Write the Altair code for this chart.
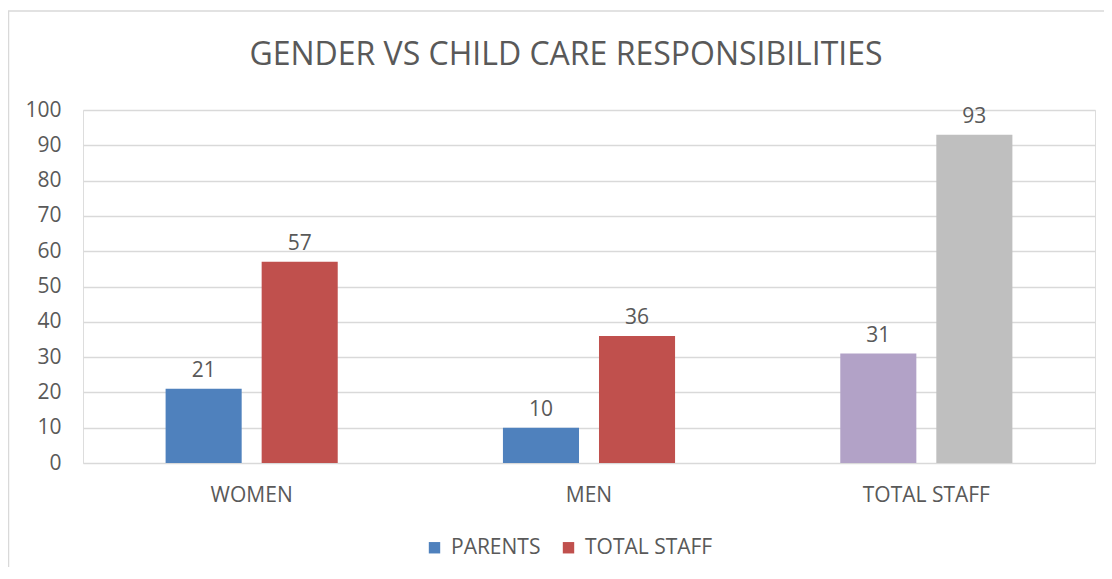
import altair as alt
import pandas as pd

categories = ["WOMEN", "MEN", "TOTAL STAFF"]
series = ["PARENTS", "TOTAL STAFF"]
parents = [21, 10, 31]
total_staff = [57, 36, 93]
color_keys = [
    ["PARENTS", "TOTAL STAFF"],
    ["PARENTS", "TOTAL STAFF"],
    ["ALL PARENTS", "ALL STAFF"],
]
color_domain = ["PARENTS", "TOTAL STAFF", "ALL PARENTS", "ALL STAFF"]
color_range = ["#4F81BD", "#C0504D", "#B2A2C7", "#BFBFBF"]
y_ticks = list(range(0, 101, 10))
title_text = "GENDER VS CHILD CARE RESPONSIBILITIES"

rows = []
for i, c in enumerate(categories):
    for j, s in enumerate(series):
        v = parents[i] if j == 0 else total_staff[i]
        rows.append({"category": c, "series": s, "value": v, "ckey": color_keys[i][j]})
df = pd.DataFrame(rows)

FONT = "Open Sans"
TXT = "#595959"
GRID = "#D9D9D9"
FS = 21

x_enc = alt.X("category:N", sort=categories, title=None,
              scale=alt.Scale(paddingInner=0, paddingOuter=0),
              axis=alt.Axis(labelAngle=0, labelFont=FONT, labelFontSize=FS,
                            labelColor=TXT, labelPadding=21, ticks=False,
                            domain=False, grid=False))
xo_enc = alt.XOffset("series:N", sort=series,
                     scale=alt.Scale(paddingInner=0.208, paddingOuter=0.86))
y_enc = alt.Y("value:Q", title=None,
              scale=alt.Scale(domain=[0, 100], nice=False),
              axis=alt.Axis(values=y_ticks, tickCount=11, labelFont=FONT,
                            labelFontSize=FS, labelColor=TXT, labelPadding=22,
                            ticks=False, labelOverlap=False,
                            domain=False, grid=True, gridColor=GRID,
                            gridWidth=1.5))

base = alt.Chart(df)

bars = base.mark_bar().encode(
    x=x_enc,
    xOffset=xo_enc,
    y=y_enc,
    color=alt.Color("ckey:N",
                    scale=alt.Scale(domain=color_domain, range=color_range),
                    legend=alt.Legend(values=["PARENTS", "TOTAL STAFF"],
                                      title=None, orient="none",
                                      direction="horizontal",
                                      legendX=341, legendY=427,
                                      symbolType="square", symbolSize=130,
                                      symbolStrokeWidth=0,
                                      labelFont=FONT, labelFontSize=FS,
                                      labelColor=TXT, labelOffset=6,
                                      columnPadding=17)),
)

labels = base.mark_text(baseline="bottom", dy=-8, font=FONT, fontSize=FS,
                        color=TXT).encode(
    x=x_enc,
    xOffset=xo_enc,
    y=y_enc,
    text="value:Q",
)

border_df = pd.DataFrame([{"k": 1}])
border = alt.Chart(border_df).mark_rect(fill=None, stroke=GRID, strokeWidth=1.5).encode(
    x=alt.value(-74.5), x2=alt.value(1040), y=alt.value(-99), y2=alt.value(480)
)

title_df = pd.DataFrame([{"t": title_text}])
title = alt.Chart(title_df).mark_text(font=FONT, fontSize=32, color=TXT,
                                      baseline="alphabetic", align="center").encode(
    x=alt.value(483), y=alt.value(-45), text="t:N"
)

chart = alt.layer(border, bars, labels, title).properties(
    width=1012, height=353,
    autosize=alt.AutoSizeParams(type="none"),
    padding={"left": 75, "top": 102, "right": 9, "bottom": 104},
).configure_view(stroke=None).configure(background="white")

chart.save("out.html", embed_options={"renderer": "svg", "actions": False})
